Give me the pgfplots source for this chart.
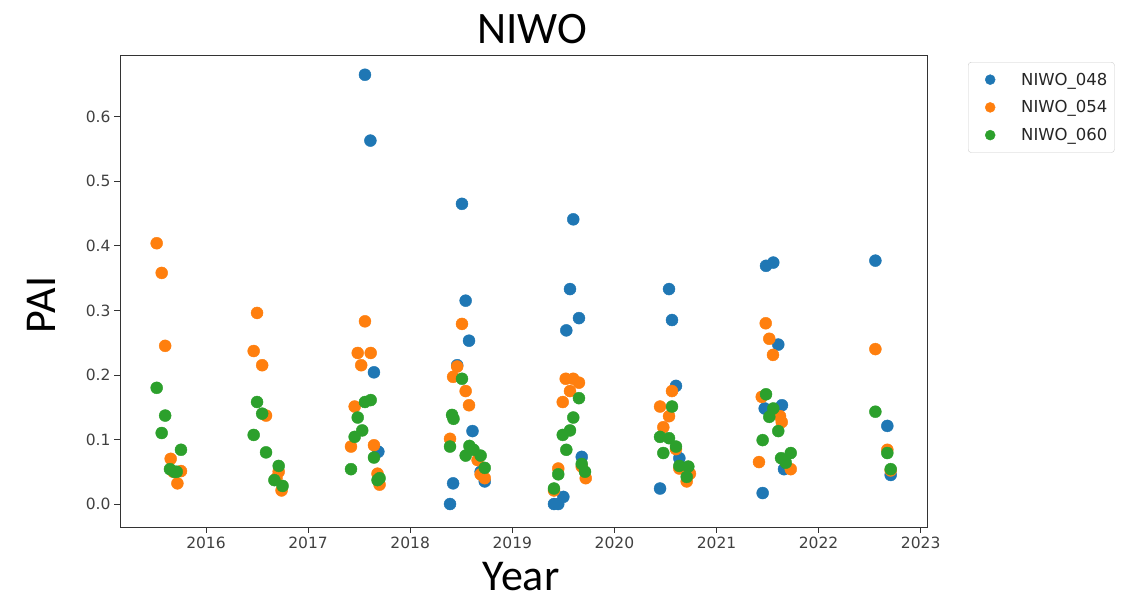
\documentclass[border=0pt]{standalone}
\usepackage{fontspec}
\usepackage{pgfplots}
\pgfplotsset{compat=1.18}
\usepackage{pgfplotstable}
\newfontfamily\dejavu{DejaVu Sans}
\newfontfamily\carlito{Carlito}

\definecolor{tabblue}{HTML}{1F77B4}
\definecolor{taborange}{HTML}{FF7F0E}
\definecolor{tabgreen}{HTML}{2CA02C}

% Plant area index per plot, x = decimal year of acquisition
\pgfplotstableread{
x y
2017.557 0.665
2017.610 0.563
2017.645 0.204
2017.688 0.081
2018.507 0.465
2018.543 0.315
2018.576 0.253
2018.460 0.215
2018.610 0.113
2018.690 0.050
2018.730 0.035
2018.420 0.032
2018.390 0.000
2019.597 0.441
2019.565 0.333
2019.653 0.288
2019.529 0.269
2019.680 0.073
2019.500 0.011
2019.408 0.000
2019.450 0.000
2020.535 0.333
2020.564 0.285
2020.603 0.183
2020.636 0.071
2020.447 0.024
2021.485 0.369
2021.556 0.374
2021.605 0.247
2021.641 0.153
2021.472 0.148
2021.661 0.054
2021.452 0.017
2022.556 0.377
2022.673 0.121
2022.706 0.045
}\niwoA

\pgfplotstableread{
x y
2015.517 0.404
2015.566 0.358
2015.600 0.245
2015.654 0.070
2015.680 0.050
2015.755 0.051
2015.720 0.032
2016.500 0.296
2016.467 0.237
2016.550 0.215
2016.588 0.137
2016.712 0.050
2016.690 0.040
2016.740 0.021
2017.557 0.283
2017.486 0.234
2017.613 0.234
2017.520 0.215
2017.456 0.151
2017.420 0.089
2017.645 0.091
2017.680 0.047
2017.700 0.030
2018.507 0.279
2018.460 0.213
2018.420 0.197
2018.543 0.175
2018.576 0.153
2018.390 0.101
2018.660 0.068
2018.690 0.046
2018.730 0.040
2019.523 0.194
2019.597 0.194
2019.653 0.188
2019.565 0.175
2019.494 0.158
2019.680 0.058
2019.719 0.040
2019.450 0.055
2019.408 0.021
2020.564 0.175
2020.447 0.151
2020.535 0.136
2020.479 0.119
2020.603 0.085
2020.636 0.055
2020.740 0.047
2020.708 0.035
2021.482 0.280
2021.517 0.256
2021.553 0.231
2021.443 0.166
2021.622 0.136
2021.639 0.127
2021.416 0.065
2021.727 0.054
2022.556 0.240
2022.673 0.084
2022.706 0.052
}\niwoB

\pgfplotstableread{
x y
2015.517 0.180
2015.600 0.137
2015.566 0.110
2015.755 0.084
2015.647 0.054
2015.690 0.050
2015.713 0.050
2016.500 0.158
2016.550 0.140
2016.467 0.107
2016.588 0.080
2016.712 0.059
2016.670 0.037
2016.750 0.028
2017.557 0.158
2017.613 0.161
2017.486 0.134
2017.530 0.114
2017.456 0.104
2017.645 0.072
2017.420 0.054
2017.700 0.040
2017.680 0.037
2018.507 0.194
2018.410 0.138
2018.424 0.132
2018.390 0.089
2018.580 0.090
2018.620 0.084
2018.543 0.075
2018.690 0.075
2018.730 0.056
2019.653 0.164
2019.597 0.134
2019.565 0.114
2019.494 0.107
2019.529 0.084
2019.680 0.062
2019.712 0.050
2019.450 0.046
2019.408 0.024
2020.564 0.151
2020.447 0.104
2020.535 0.102
2020.603 0.089
2020.479 0.079
2020.636 0.059
2020.724 0.058
2020.708 0.042
2021.485 0.170
2021.556 0.148
2021.517 0.135
2021.605 0.113
2021.452 0.099
2021.727 0.079
2021.632 0.071
2021.678 0.064
2022.556 0.143
2022.673 0.079
2022.706 0.054
}\niwoC

\begin{document}
\begin{tikzpicture}[x=1pt,y=1pt]
\path[use as bounding box] (0,0) rectangle (1134,601);
\begin{axis}[
  at={(120pt,74pt)}, anchor=south west,
  scale only axis, width=807pt, height=472pt,
  xmin=2015.1577, xmax=2023.0617,
  ymin=-0.0356, ymax=0.6956,
  xtick={2016,2017,2018,2019,2020,2021,2022,2023},
  ytick={0,0.1,0.2,0.3,0.4,0.5,0.6},
  xtick pos=bottom, ytick pos=left,
  tick align=outside,
  major tick length=6pt,
  tick style={black!80, line width=0.8pt},
  axis line style={black!80, line width=0.9pt},
  /pgf/number format/assume math mode=true,
  x tick label style={/pgf/number format/1000 sep={}},
  y tick label style={/pgf/number format/.cd, fixed, fixed zerofill, precision=1},
  ticklabel style={font=\dejavu\fontsize{15.5}{18}\selectfont, text=black!75},
  legend style={
    at={(1.0508,0.985)}, anchor=north west,
    draw=black!20, rounded corners=3pt,
    font=\dejavu\fontsize{16.5}{19}\selectfont, text=black!85,
    row sep=10pt, inner xsep=5pt, inner ysep=8.5pt,
  },
  legend cell align=left,
  legend image code/.code={%
    \path[draw=none, fill=none] (0pt,0pt) rectangle (46pt,0.1pt);
    \draw[mark size=5pt] plot coordinates {(17pt,0pt)};},
]
\addplot[only marks, mark=*, mark size=6pt, mark options={draw=tabblue, fill=tabblue}] table {\niwoA};
\addlegendentry{NIWO\_048}
\addplot[only marks, mark=*, mark size=6pt, mark options={draw=taborange, fill=taborange}] table {\niwoB};
\addlegendentry{NIWO\_054}
\addplot[only marks, mark=*, mark size=6pt, mark options={draw=tabgreen, fill=tabgreen}] table {\niwoC};
\addlegendentry{NIWO\_060}
\end{axis}
\node[anchor=base, inner sep=0pt, font=\carlito\fontsize{45}{54}\selectfont] at (532,557.7) {NIWO};
\node[anchor=base, inner sep=0pt, font=\carlito\fontsize{44}{53}\selectfont] at (521,10) {Year};
\node[anchor=base, inner sep=0pt, rotate=90, font=\carlito\fontsize{44}{53}\selectfont] at (55,296) {PAI};
\end{tikzpicture}
\end{document}
